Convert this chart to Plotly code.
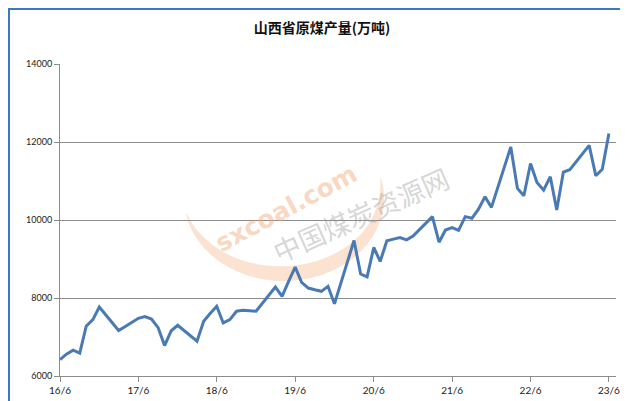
import numpy as np
import plotly.graph_objects as go

# ---- data (万吨), monthly; Jan/Feb not reported separately ----
months = [
    "2016-06", "2016-07", "2016-08", "2016-09", "2016-10", "2016-11", "2016-12",
    "2017-03", "2017-04", "2017-05", "2017-06", "2017-07", "2017-08", "2017-09", "2017-10", "2017-11", "2017-12",
    "2018-03", "2018-04", "2018-05", "2018-06", "2018-07", "2018-08", "2018-09", "2018-10", "2018-11", "2018-12",
    "2019-03", "2019-04", "2019-05", "2019-06", "2019-07", "2019-08", "2019-09", "2019-10", "2019-11", "2019-12",
    "2020-03", "2020-04", "2020-05", "2020-06", "2020-07", "2020-08", "2020-09", "2020-10", "2020-11", "2020-12",
    "2021-03", "2021-04", "2021-05", "2021-06", "2021-07", "2021-08", "2021-09", "2021-10", "2021-11", "2021-12",
    "2022-03", "2022-04", "2022-05", "2022-06", "2022-07", "2022-08", "2022-09", "2022-10", "2022-11", "2022-12",
    "2023-03", "2023-04", "2023-05", "2023-06",
]
output = [
    6420, 6560, 6664, 6587, 7277, 7445, 7770,
    7165, 7271, 7380, 7480, 7522, 7460, 7240, 6780, 7160, 7300,
    6894, 7405, 7600, 7788, 7361, 7446, 7660, 7686, 7675, 7660,
    8281, 8043, 8420, 8792, 8401, 8255, 8210, 8171, 8299, 7850,
    9473, 8615, 8540, 9295, 8937, 9470, 9510, 9550, 9490, 9590,
    10086, 9430, 9744, 9805, 9735, 10086, 10043, 10273, 10597, 10324,
    11874, 10809, 10623, 11448, 10962, 10766, 11108, 10255, 11230, 11290,
    11915, 11134, 11302, 12220,
]
tick_dates = ["2016-06", "2017-06", "2018-06", "2019-06", "2020-06", "2021-06", "2022-06", "2023-06"]
tick_labels = ["16/6", "17/6", "18/6", "19/6", "20/6", "21/6", "22/6", "23/6"]
y_ticks = [6000, 8000, 10000, 12000, 14000]
y_labels = ["6000", "8000", "10000", "12000", "14000"]
title_text = "山西省原煤产量(万吨)"
watermark_en = "sxcoal.com"
watermark_cn = "中国煤炭资源网"

# ---- layout geometry (pixels) ----
W, H = 628, 401
ML, MR, MT, MB = 52, 20, 56, 33
PW, PH = W - ML - MR, H - MT - MB


def px2paper(px, py):
    return (px - ML) / PW, (H - MB - py) / PH


fig = go.Figure()
fig.add_trace(go.Scatter(
    x=months, y=output, mode="lines",
    line=dict(color="#4a7ab4", width=3),
    hoverinfo="x+y", showlegend=False,
))

# watermark crescent (decoration)
cx, cy, rx, ry = 276, 190, 100, 83
t = np.radians(np.linspace(-15, 170, 80))
wmax = 15
w = wmax * np.sin(np.pi * (np.degrees(t) + 15) / 185) ** 0.8
ox = cx + rx * np.cos(t)
oy = cy + ry * np.sin(t)
ix = cx + (rx - w) * np.cos(t)
iy = cy + (ry - w) * np.sin(t)
pts = list(zip(ox, oy)) + list(zip(ix[::-1], iy[::-1]))
path = ""
for k, (a, b) in enumerate(pts):
    xp, yp = px2paper(a, b)
    path += ("M" if k == 0 else "L") + f"{xp:.5f},{yp:.5f}"
path += "Z"

shapes = [
    dict(type="path", path=path, xref="paper", yref="paper",
         fillcolor="rgba(245,180,135,0.38)", line=dict(width=0), layer="below"),
]
bx0, by0 = px2paper(1, H - 1)
bx1, by1 = px2paper(W - 1, 1)
shapes.append(dict(type="rect", xref="paper", yref="paper",
                   x0=bx0, y0=by0, x1=bx1, y1=by1,
                   line=dict(color="#3a78c0", width=2), fillcolor="rgba(0,0,0,0)"))

ax_en, ay_en = px2paper(278, 200)
ax_cn, ay_cn = px2paper(352, 206)
annotations = [
    dict(text=f"<b>{watermark_en}</b>", x=ax_en, y=ay_en, xref="paper", yref="paper",
         showarrow=False, textangle=-28,
         font=dict(family="DejaVu Sans", size=25, color="rgba(242,165,115,0.45)")),
    dict(text=watermark_cn, x=ax_cn, y=ay_cn, xref="paper", yref="paper",
         showarrow=False, textangle=-24,
         font=dict(family="Noto Sans CJK SC", size=27, color="rgba(150,150,150,0.4)")),
]

fig.update_layout(
    width=W, height=H,
    margin=dict(l=ML, r=MR, t=MT, b=MB),
    paper_bgcolor="white", plot_bgcolor="white",
    title=dict(text=f"<b>{title_text}</b>", x=0.5, xanchor="center", y=1 - 20 / H, yanchor="middle",
               font=dict(family="Noto Sans CJK SC", size=14, color="#111111")),
    shapes=shapes,
    annotations=annotations,
    xaxis=dict(
        type="date", range=["2016-06-01", "2023-07-04"],
        tickvals=tick_dates, ticktext=tick_labels,
        showgrid=False, showline=True, linecolor="#8c8c8c", linewidth=1,
        ticks="outside", ticklen=5, tickcolor="#8c8c8c",
        tickfont=dict(family="Lato", size=10, color="#222222"),
        zeroline=False,
    ),
    yaxis=dict(
        range=[6000, 14000], tickvals=y_ticks, ticktext=y_labels,
        showgrid=True, gridcolor="#8c8c8c", gridwidth=1,
        showline=True, linecolor="#8c8c8c", linewidth=1,
        ticks="outside", ticklen=5, tickcolor="#8c8c8c",
        tickfont=dict(family="Lato", size=9, color="#222222"),
        zeroline=False,
    ),
)

fig.write_html("out.html")
